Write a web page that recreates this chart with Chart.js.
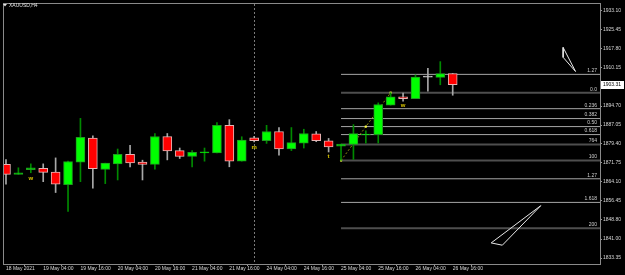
<!DOCTYPE html>
<html>
<head>
<meta charset="utf-8">
<script src="https://cdn.jsdelivr.net/npm/chart.js@4.4.0/dist/chart.umd.min.js"></script>
<style>
  html, body { margin: 0; padding: 0; background: #000; }
</style>
</head>
<body>
<canvas id="chart" width="625" height="275"></canvas>
<script>
// XAUUSD H4 bars, 18 May 16:00 .. 26 May 16:00
const opens  = [1871.13, 1867.14, 1868.98, 1869.54, 1868.06, 1862.99, 1872.05, 1881.75, 1869.14, 1871.37,
                1875.24, 1872.05, 1871.13, 1882.42, 1876.72, 1874.33, 1875.80, 1875.76, 1886.93, 1872.45,
                1881.91, 1880.71, 1884.42, 1877.36, 1879.75, 1883.50, 1880.71, 1878.55, 1879.23, 1883.00,
                1883.10, 1895.07, 1898.38, 1897.71, 1906.36, 1906.25, 1907.84];
const highs  = [1873.13, 1869.78, 1871.37, 1871.37, 1873.77, 1872.50, 1889.73, 1882.70, 1871.65, 1877.36,
                1878.83, 1872.85, 1883.62, 1883.62, 1877.76, 1876.72, 1877.76, 1888.01, 1889.21, 1882.31,
                1882.43, 1886.93, 1886.02, 1886.02, 1885.34, 1884.42, 1881.63, 1879.35, 1887.21, 1884.70,
                1895.99, 1900.10, 1899.98, 1907.28, 1909.96, 1912.63, 1907.84];
const lows   = [1863.15, 1867.14, 1867.78, 1864.19, 1859.80, 1852.22, 1864.19, 1861.56, 1863.39, 1864.87,
                1870.18, 1864.87, 1869.26, 1872.97, 1873.53, 1870.18, 1872.45, 1875.76, 1870.18, 1872.45,
                1880.23, 1879.63, 1874.84, 1876.72, 1877.76, 1880.31, 1876.16, 1872.73, 1873.13, 1879.75,
                1879.75, 1895.07, 1896.67, 1897.71, 1900.66, 1903.29, 1899.06];
const closes = [1867.14, 1867.78, 1869.78, 1867.94, 1863.15, 1872.33, 1882.03, 1869.38, 1871.65, 1875.24,
                1871.77, 1871.13, 1882.42, 1876.56, 1874.33, 1876.04, 1875.92, 1886.93, 1872.45, 1880.95,
                1880.71, 1884.42, 1877.36, 1879.91, 1883.62, 1880.71, 1878.24, 1879.35, 1883.62, 1883.10,
                1895.31, 1898.38, 1897.71, 1906.36, 1906.36, 1907.84, 1903.31];

// time axis: a label every 3rd bar
const timeTickIdx = [0, 3, 6, 9, 12, 15, 18, 21, 24, 27, 30, 33, 36];
const timeLabels = ['18 May 2021', '19 May 04:00', '19 May 16:00', '20 May 04:00', '20 May 16:00',
                    '21 May 04:00', '21 May 16:00', '24 May 04:00', '24 May 16:00', '25 May 04:00',
                    '25 May 16:00', '26 May 04:00', '26 May 16:00'];

// price axis labels
const priceTicks = [1933.10, 1925.45, 1917.80, 1910.15, 1894.70, 1887.05, 1879.40,
                    1871.75, 1864.10, 1856.45, 1848.80, 1841.00, 1833.35];

// visible window
const xMin = -0.16, xMax = 47.87;
const yMin = 1830.95, yMax = 1935.89;

// week separator (24 May 00:00)
const separatorIdx = 20;

// fibo retracement: from bar 27 low to bar 31 high
const fibFrom = { x: 27, y: 1872.73 };
const fibTo = { x: 31, y: 1900.10 };
const fibRatios = [-0.27, 0, 0.236, 0.382, 0.5, 0.618, 0.764, 1, 1.27, 1.618, 2];
const fibNames  = ['1.27', '0.0', '0.236', '0.382', '0.50', '0.618', '764', '100', '1.27', '1.618', '200'];
const fibStrong = ['0.0', '764', '100', '200'];

// triangle objects
const tri1X = [44.9, 44.9, 45.9, 44.9];
const tri1Y = [1918.34, 1914.35, 1908.64, 1918.34];
const tri2X = [43.1, 39.1, 40.0, 43.1];
const tri2Y = [1854.50, 1839.46, 1838.54, 1854.50];

// yellow text markers
const markIdx   = [2, 20, 26, 32];
const markPrice = [1865.67, 1878.04, 1874.25, 1894.79];
const markText  = ['w', 'm', 't', 'w'];

const FONT = 'Liberation Sans';
const idx = opens.map((_, i) => i);
const dir = idx.map(i => Math.sign(closes[i] - opens[i]));
const bodyFill = dir.map(d => d > 0 ? '#00ff00' : d < 0 ? '#ff0000' : '#c8c8c8');
const bodyEdge = dir.map(d => d > 0 ? '#1f9a1f' : d < 0 ? '#e6b4b4' : '#c8c8c8');
const wickCol  = dir.map(d => d > 0 ? '#008a00' : '#a8a8a8');

const fibRange = fibTo.y - fibFrom.y;
const fibDatasets = fibRatios.map((r, k) => {
  const lvl = fibTo.y - r * fibRange;
  const strong = fibStrong.includes(fibNames[k]);
  return {
    type: 'line',
    data: [{ x: fibFrom.x, y: lvl }, { x: xMax, y: lvl }],
    borderColor: strong ? '#4e4e4e' : '#a6a6a6',
    borderWidth: strong ? 2 : 1,
    pointRadius: 0,
    order: 5
  };
});

function triangle(xs, ys) {
  return {
    type: 'line',
    data: xs.map((x, i) => ({ x: x, y: ys[i] })),
    borderColor: '#e8e8e8',
    borderWidth: 1,
    pointRadius: 0,
    tension: 0,
    order: 3
  };
}

const mtPlugin = {
  id: 'mt',
  beforeDraw(chart) {
    const c = chart.ctx;
    c.save();
    c.fillStyle = '#000';
    c.fillRect(0, 0, chart.width, chart.height);
    c.restore();
  },
  beforeDatasetsDraw(chart) {
    const c = chart.ctx, a = chart.chartArea;
    const sx = chart.scales.x.getPixelForValue(separatorIdx);
    c.save();
    c.strokeStyle = '#7a7a7a';
    c.lineWidth = 1;
    c.setLineDash([2, 2]);
    c.beginPath();
    c.moveTo(Math.round(sx) + 0.5, a.top);
    c.lineTo(Math.round(sx) + 0.5, a.bottom);
    c.stroke();
    c.restore();
  },
  afterDatasetsDraw(chart) {
    const c = chart.ctx, a = chart.chartArea;
    const xs = chart.scales.x, ys = chart.scales.y;
    c.save();

    // fibo level names
    c.font = '5px "' + FONT + '"';
    c.fillStyle = '#cfcfcf';
    c.textAlign = 'right';
    c.textBaseline = 'bottom';
    fibRatios.forEach((r, k) => {
      const py = ys.getPixelForValue(fibTo.y - r * fibRange);
      c.fillText(fibNames[k], a.right - 3, py - 1);
    });

    // yellow markers
    c.font = 'bold 6px "' + FONT + '"';
    c.fillStyle = '#d8c400';
    c.textAlign = 'center';
    c.textBaseline = 'middle';
    markIdx.forEach((m, k) => {
      c.fillText(markText[k], xs.getPixelForValue(m), ys.getPixelForValue(markPrice[k]));
    });

    // frame
    c.strokeStyle = '#8a8a8a';
    c.lineWidth = 1;
    c.strokeRect(a.left - 0.5, a.top - 0.5, a.right - a.left + 1, a.bottom - a.top + 1);

    // symbol caption
    c.fillStyle = '#e0e0e0';
    c.beginPath();
    c.moveTo(3, 4); c.lineTo(7, 4); c.lineTo(5, 6.5); c.closePath();
    c.fill();
    c.font = '5px "' + FONT + '"';
    c.textAlign = 'left';
    c.textBaseline = 'middle';
    c.fillText('XAUUSD,H4', 9, 5.5);

    // current price box
    const last = closes[closes.length - 1];
    const py = Math.round(ys.getPixelForValue(last));
    c.fillStyle = '#ffffff';
    c.fillRect(a.right + 1, py - 4, 23, 8);
    c.fillStyle = '#000000';
    c.fillText(last.toFixed(2), a.right + 3, py);
    c.restore();
  }
};

new Chart(document.getElementById('chart'), {
  type: 'bar',
  data: {
    datasets: [
      {
        data: idx.map(i => ({ x: i, y: [opens[i], closes[i]] })),
        backgroundColor: bodyFill,
        borderColor: bodyEdge,
        borderWidth: 1,
        borderSkipped: false,
        barThickness: 9,
        minBarLength: 1,
        grouped: false,
        order: 0
      },
      {
        data: idx.map(i => ({ x: i, y: [lows[i], highs[i]] })),
        backgroundColor: wickCol,
        borderWidth: 0,
        barThickness: 1,
        grouped: false,
        order: 1
      },
      {
        type: 'line',
        data: [fibFrom, { x: (fibFrom.x + fibTo.x) / 2, y: (fibFrom.y + fibTo.y) / 2 }, fibTo],
        borderColor: '#8c8a10',
        borderWidth: 1,
        borderDash: [2, 2],
        pointStyle: 'rect',
        pointRadius: 1.5,
        pointBackgroundColor: '#ffff40',
        pointBorderWidth: 0,
        order: 2
      },
      triangle(tri1X, tri1Y),
      triangle(tri2X, tri2Y),
      ...fibDatasets
    ]
  },
  options: {
    responsive: false,
    animation: false,
    devicePixelRatio: 1,
    layout: { padding: { left: 1, top: 1, right: 0, bottom: 0 } },
    plugins: { legend: { display: false }, tooltip: { enabled: false } },
    scales: {
      x: {
        type: 'linear',
        min: xMin,
        max: xMax,
        offset: false,
        afterBuildTicks: s => { s.ticks = timeTickIdx.map(v => ({ value: v })); },
        afterFit: s => { s.height = 11; },
        grid: { drawOnChartArea: false, color: '#9a9a9a', tickLength: 2 },
        border: { display: false },
        ticks: {
          color: '#d8d8d8',
          font: { family: FONT, size: 5 },
          align: 'start',
          maxRotation: 0,
          autoSkip: false,
          padding: 0,
          callback: v => timeLabels[timeTickIdx.indexOf(v)]
        }
      },
      y: {
        position: 'right',
        min: yMin,
        max: yMax,
        afterBuildTicks: s => { s.ticks = priceTicks.map(v => ({ value: v })); },
        afterFit: s => { s.width = 25; },
        grid: { drawOnChartArea: false, color: '#9a9a9a', tickLength: 2 },
        border: { display: false },
        ticks: {
          color: '#d8d8d8',
          font: { family: FONT, size: 5 },
          padding: 1,
          callback: v => v.toFixed(2)
        }
      }
    }
  },
  plugins: [mtPlugin]
});
</script>
</body>
</html>
